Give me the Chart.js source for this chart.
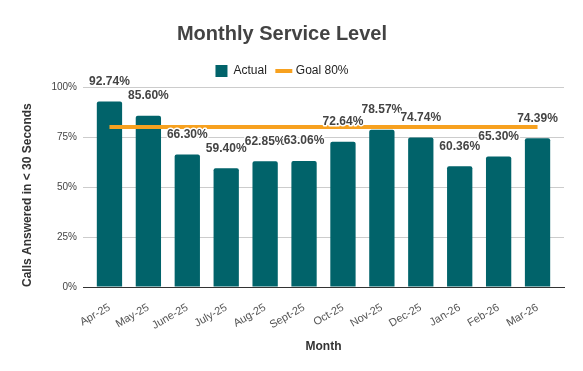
<!DOCTYPE html>
<html>
<head>
<meta charset="utf-8">
<script src="https://cdn.jsdelivr.net/npm/chart.js@4"></script>
<style>
  body { margin: 0; background: #fff; }
  #wrap { width: 583px; height: 371px; }
</style>
</head>
<body>
<div id="wrap"><canvas id="serviceChart" width="583" height="371"></canvas></div>
<script>
// chart data
const months = ['Apr-25', 'May-25', 'June-25', 'July-25', 'Aug-25', 'Sept-25', 'Oct-25', 'Nov-25', 'Dec-25', 'Jan-26', 'Feb-26', 'Mar-26'];
const actual = [92.74, 85.60, 66.30, 59.40, 62.85, 63.06, 72.64, 78.57, 74.74, 60.36, 65.30, 74.39];
const goal = 80;
const yTicks = [0, 25, 50, 75, 100];

const teal = '#01636a';
const orange = '#f7a11f';
const textGrey = '#444444';

// value labels above each bar, white halo so they sit over the goal line
const barLabels = {
  id: 'barLabels',
  afterDatasetsDraw(chart) {
    const meta = chart.getDatasetMeta(0);
    const ctx = chart.ctx;
    ctx.save();
    ctx.font = 'bold 12px "Liberation Sans", Arial, sans-serif';
    ctx.textAlign = 'center';
    ctx.textBaseline = 'middle';
    ctx.lineJoin = 'round';
    meta.data.forEach((bar, i) => {
      const txt = actual[i].toFixed(2) + '%';
      const y = bar.y - 20;
      ctx.strokeStyle = '#ffffff';
      ctx.lineWidth = 3;
      ctx.strokeText(txt, bar.x, y);
      ctx.fillStyle = textGrey;
      ctx.fillText(txt, bar.x, y);
    });
    ctx.restore();
  }
};

const ctx = document.getElementById('serviceChart').getContext('2d');
const serviceChart = new Chart(ctx, {
  type: 'bar',
  data: {
    datasets: [{
      type: 'bar',
      label: 'Actual',
      data: actual.map((v, i) => ({ x: i, y: v })),
      backgroundColor: teal,
      borderRadius: { topLeft: 2, topRight: 2 },
      borderSkipped: 'bottom',
      categoryPercentage: 1,
      barPercentage: 0.65,
      pointStyle: 'rect',
      order: 2
    }, {
      type: 'line',
      label: 'Goal 80%',
      data: [{ x: 0, y: goal }, { x: months.length - 1, y: goal }],
      borderColor: orange,
      backgroundColor: orange,
      borderWidth: 4,
      pointRadius: 0,
      pointStyle: 'line',
      fill: false,
      order: 1
    }]
  },
  options: {
    responsive: false,
    animation: false,
    layout: { padding: { left: 0, right: 19, top: 0, bottom: 0 } },
    plugins: {
      title: {
        display: true,
        text: 'Monthly Service Level',
        color: '#434343',
        font: { family: '"Liberation Sans", Arial, sans-serif', size: 20, weight: 'bold' },
        padding: { top: 22, bottom: 8 }
      },
      legend: {
        position: 'top',
        labels: {
          usePointStyle: true,
          boxWidth: 12,
          boxHeight: 12,
          padding: 11,
          color: '#222222',
          font: { family: '"Liberation Sans", Arial, sans-serif', size: 12 },
          sort: (a, b) => a.datasetIndex - b.datasetIndex
        }
      },
      tooltip: { enabled: false }
    },
    scales: {
      x: {
        type: 'linear',
        min: -0.68,
        max: months.length - 1 + 0.68,
        offset: false,
        afterBuildTicks: (scale) => { scale.ticks = months.map((m, i) => ({ value: i })); },
        afterFit: (scale) => { scale.height = 84; },
        grid: { display: false },
        border: { display: true, color: '#333333', width: 1 },
        ticks: {
          autoSkip: false,
          minRotation: 30,
          maxRotation: 30,
          padding: 6,
          color: '#555555',
          font: { family: '"Liberation Sans", Arial, sans-serif', size: 11 },
          callback: (v) => months[v]
        },
        title: {
          display: true,
          text: 'Month',
          color: '#333333',
          font: { family: '"Liberation Sans", Arial, sans-serif', size: 12, weight: 'bold' },
          padding: { top: 0, bottom: 17 }
        }
      },
      y: {
        min: 0,
        max: 100,
        afterFit: (scale) => { scale.width = 83; },
        afterBuildTicks: (scale) => { scale.ticks = yTicks.map(v => ({ value: v })); },
        grid: { color: '#cccccc', drawTicks: false },
        border: { display: false },
        ticks: {
          padding: 6,
          color: '#444444',
          font: { family: '"Liberation Sans", Arial, sans-serif', size: 10 },
          callback: (v) => v + '%'
        },
        title: {
          display: true,
          text: 'Calls Answered in < 30 Seconds',
          align: 'start',
          color: '#333333',
          font: { family: '"Liberation Sans", Arial, sans-serif', size: 12, weight: 'bold' },
          padding: { top: 20, bottom: 0 }
        }
      }
    }
  },
  plugins: [barLabels]
});
</script>
</body>
</html>
